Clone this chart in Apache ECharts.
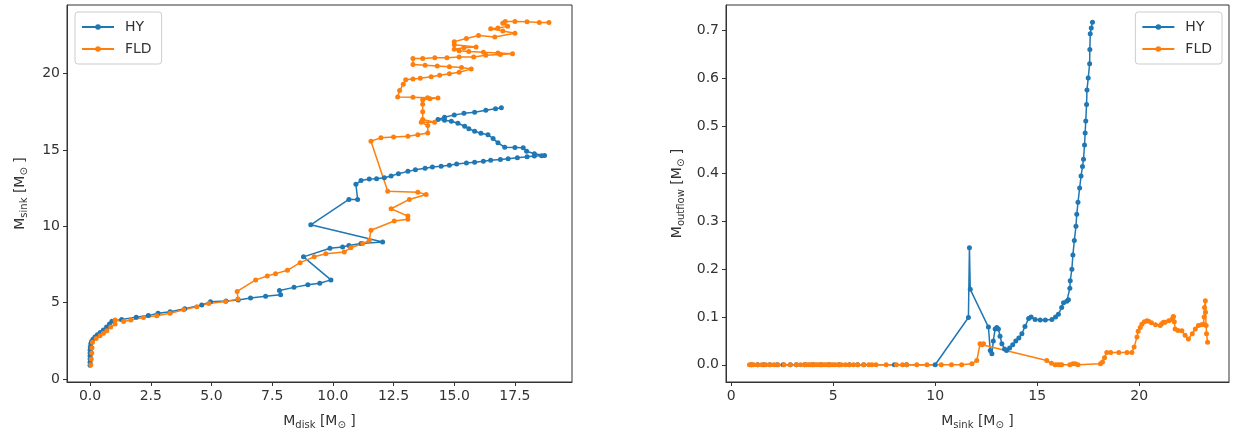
<!DOCTYPE html>
<html>
<head>
<meta charset="utf-8">
<script src="https://cdn.jsdelivr.net/npm/echarts@6/dist/echarts.min.js"></script>
<style>
  html, body { margin: 0; padding: 0; background: #fff; }
  #chart { width: 1234px; height: 429px; }
</style>
</head>
<body>
<div id="chart"></div>
<script>
// left panel: [M_disk, M_sink]
const hyDiskSink = [
  [0.0, 0.9], [0.0, 1.1], [0.0, 1.3], [0.0, 1.5], [0.0, 1.7], [0.0, 1.9], [0.01, 2.1], [0.03, 2.3],
  [0.06, 2.45], [0.12, 2.6], [0.2, 2.75], [0.3, 2.9], [0.42, 3.05], [0.55, 3.2], [0.68, 3.4], [0.8, 3.6],
  [0.9, 3.78], [1.3, 3.9], [1.9, 4.05], [2.4, 4.15], [2.8, 4.3], [3.3, 4.4], [3.9, 4.6], [4.6, 4.85],
  [4.96, 5.05], [5.6, 5.1], [6.1, 5.18], [6.61, 5.3], [7.23, 5.42], [7.85, 5.52], [7.8, 5.8], [8.4, 6.0],
  [8.97, 6.17], [9.46, 6.27], [9.92, 6.49], [8.79, 8.0], [9.88, 8.56], [10.4, 8.65], [10.66, 8.75],
  [11.16, 8.87], [12.05, 8.97], [9.09, 10.1], [10.66, 11.76], [11.02, 11.76], [10.95, 12.75],
  [11.16, 13.0], [11.5, 13.1], [11.8, 13.12], [12.12, 13.18], [12.4, 13.3], [12.7, 13.45], [13.09, 13.6],
  [13.4, 13.7], [13.8, 13.8], [14.1, 13.88], [14.46, 13.94], [14.8, 14.0], [15.1, 14.08], [15.5, 14.15],
  [15.84, 14.2], [16.2, 14.27], [16.5, 14.33], [16.9, 14.38], [17.22, 14.42], [17.6, 14.5], [18.0, 14.56],
  [18.3, 14.6], [18.6, 14.62], [18.72, 14.64], [18.3, 14.75], [17.98, 14.92], [17.84, 15.14], [17.5, 15.16],
  [17.08, 15.18], [16.8, 15.47], [16.6, 15.75], [16.39, 16.0], [16.1, 16.1], [15.84, 16.23], [15.6, 16.4],
  [15.43, 16.56], [15.15, 16.75], [14.88, 16.88], [14.6, 16.95], [14.33, 17.0], [14.6, 17.15], [15.0, 17.3],
  [15.4, 17.4], [15.84, 17.48], [16.3, 17.6], [16.7, 17.7], [16.94, 17.76]
];
const fldDiskSink = [
  [0.03, 0.93], [0.05, 1.3], [0.07, 1.7], [0.08, 2.05], [0.1, 2.4], [0.25, 2.65], [0.41, 2.83], [0.55, 3.0],
  [0.69, 3.16], [0.85, 3.4], [1.03, 3.6], [1.03, 3.86], [1.38, 3.77], [1.68, 3.86], [2.2, 4.03], [2.75, 4.14],
  [3.3, 4.3], [3.86, 4.53], [4.4, 4.73], [4.89, 4.95], [5.58, 5.07], [6.09, 5.23], [6.06, 5.73], [6.82, 6.49],
  [7.3, 6.75], [7.64, 6.9], [8.13, 7.12], [8.65, 7.62], [9.23, 8.0], [9.71, 8.2], [10.47, 8.32], [10.74, 8.6],
  [11.23, 8.87], [11.5, 9.08], [11.57, 9.74], [12.53, 10.35], [13.09, 10.46], [13.09, 10.67], [12.4, 11.15],
  [13.15, 11.76], [13.84, 12.09], [13.5, 12.24], [12.26, 12.3], [11.57, 15.58], [11.98, 15.8], [12.5, 15.85],
  [13.09, 15.9], [13.5, 16.0], [13.91, 16.12], [13.91, 16.6], [13.64, 16.82], [14.19, 16.82], [13.7, 17.0],
  [13.7, 17.5], [13.7, 18.0], [13.7, 18.3], [14.0, 18.35], [14.33, 18.4], [13.9, 18.42], [13.3, 18.45],
  [12.67, 18.47], [12.75, 18.9], [12.9, 19.3], [13.0, 19.6], [13.3, 19.65], [13.6, 19.7], [14.05, 19.8],
  [14.4, 19.9], [14.8, 20.0], [15.2, 20.1], [15.7, 20.3], [15.3, 20.4], [14.8, 20.45], [14.3, 20.5],
  [13.8, 20.55], [13.3, 20.6], [13.3, 21.0], [13.7, 21.0], [14.2, 21.05], [14.7, 21.05], [15.2, 21.1],
  [15.8, 21.1], [16.3, 21.2], [16.9, 21.25], [17.4, 21.3], [16.8, 21.35], [16.2, 21.4], [15.6, 21.45],
  [15.2, 21.5], [15.0, 21.6], [15.4, 21.7], [15.9, 21.75], [15.0, 21.9], [15.0, 22.1], [15.5, 22.3],
  [16.0, 22.5], [16.67, 22.4], [17.5, 22.65], [17.0, 22.8], [16.5, 22.95], [16.8, 23.0], [17.2, 23.1],
  [17.0, 23.3], [17.1, 23.42], [17.5, 23.42], [18.0, 23.4], [18.5, 23.35], [18.9, 23.35]
];

// right panel: [M_sink, M_outflow]
const hySinkOutflow = [
  [1.0, 0], [1.3, 0], [1.6, 0], [1.9, 0], [2.25, 0], [2.55, 0], [2.9, 0], [3.2, 0], [3.6, 0], [4.0, 0],
  [4.4, 0], [4.8, 0], [5.3, 0], [5.8, 0], [6.2, 0], [6.5, 0], [8.0, 0], [8.6, 0], [10.0, 0],
  [11.63, 0.099], [11.68, 0.245], [11.72, 0.158], [12.61, 0.079], [12.7, 0.03], [12.78, 0.023],
  [12.85, 0.05], [12.94, 0.075], [13.02, 0.078], [13.1, 0.075], [13.18, 0.06], [13.27, 0.044],
  [13.4, 0.033], [13.5, 0.03], [13.65, 0.035], [13.8, 0.042], [13.95, 0.05], [14.1, 0.056], [14.25, 0.065],
  [14.4, 0.08], [14.58, 0.097], [14.7, 0.1], [14.9, 0.095], [15.15, 0.094], [15.4, 0.094], [15.72, 0.095],
  [15.9, 0.1], [16.04, 0.106], [16.2, 0.12], [16.29, 0.13], [16.45, 0.133], [16.53, 0.136], [16.6, 0.16],
  [16.62, 0.176], [16.7, 0.2], [16.75, 0.23], [16.82, 0.26], [16.9, 0.29], [16.94, 0.315], [17.0, 0.34],
  [17.08, 0.37], [17.15, 0.395], [17.22, 0.415], [17.27, 0.43], [17.32, 0.46], [17.35, 0.485], [17.38, 0.51],
  [17.42, 0.545], [17.44, 0.575], [17.5, 0.6], [17.57, 0.63], [17.58, 0.66], [17.6, 0.693], [17.65, 0.705],
  [17.71, 0.717]
];
const fldSinkOutflow = [
  [0.9, 0], [1.0, 0], [1.1, 0], [1.3, 0], [1.5, 0], [1.7, 0], [1.9, 0], [2.1, 0], [2.3, 0], [2.6, 0],
  [2.9, 0], [3.2, 0], [3.4, 0], [3.6, 0], [3.7, 0], [3.8, 0], [3.9, 0], [4.0, 0], [4.1, 0], [4.2, 0],
  [4.3, 0], [4.4, 0], [4.5, 0], [4.6, 0], [4.7, 0], [4.8, 0], [4.9, 0], [5.0, 0], [5.1, 0], [5.25, 0],
  [5.4, 0], [5.6, 0], [5.8, 0], [6.0, 0], [6.2, 0], [6.5, 0], [6.75, 0], [6.9, 0], [7.1, 0], [7.6, 0],
  [8.1, 0], [8.4, 0], [8.6, 0], [9.1, 0], [9.6, 0], [10.3, 0], [10.8, 0], [11.3, 0], [11.8, 0.002],
  [12.04, 0.009], [12.2, 0.044], [12.3, 0.042], [12.37, 0.044], [15.47, 0.009], [15.7, 0.003], [15.88, 0],
  [16.0, 0], [16.1, 0], [16.2, 0], [16.6, 0], [16.75, 0.002], [16.86, 0.002], [17.0, 0], [18.1, 0.002],
  [18.2, 0.006], [18.3, 0.015], [18.41, 0.026], [18.6, 0.026], [19.0, 0.026], [19.4, 0.026], [19.64, 0.026],
  [19.75, 0.037], [19.89, 0.058], [19.95, 0.07], [20.05, 0.078], [20.13, 0.085], [20.25, 0.09], [20.38, 0.092],
  [20.46, 0.091], [20.6, 0.088], [20.8, 0.084], [21.03, 0.082], [21.1, 0.086], [21.19, 0.089], [21.27, 0.089],
  [21.45, 0.092], [21.6, 0.095], [21.66, 0.1], [21.68, 0.101], [21.72, 0.09], [21.76, 0.075], [21.9, 0.072],
  [22.09, 0.071], [22.25, 0.062], [22.41, 0.054], [22.6, 0.065], [22.75, 0.075], [22.9, 0.082], [23.05, 0.084],
  [23.15, 0.085], [23.18, 0.1], [23.2, 0.12], [23.24, 0.134], [23.25, 0.11], [23.28, 0.082], [23.3, 0.065],
  [23.35, 0.047]
];

const diskTicks = [0, 2.5, 5, 7.5, 10, 12.5, 15, 17.5];
const sinkTicksLeft = [0, 5, 10, 15, 20];
const sinkTicksRight = [0, 5, 10, 15, 20];
const outflowTicks = [0, 0.1, 0.2, 0.3, 0.4, 0.5, 0.6, 0.7];

const blue = '#1f77b4';
const orange = '#ff7f0e';
const textColor = '#333';
const font = 'DejaVu Sans';

const nameStyle = {
  color: textColor,
  fontFamily: font,
  fontSize: 14,
  rich: {
    sub: { fontSize: 10, fontFamily: font, color: textColor, padding: [8, 0, 0, 0] }
  }
};

function axis(gridIndex, min, max, ticks, fmt, name, nameGap) {
  return {
    type: 'value',
    gridIndex: gridIndex,
    min: min,
    max: max,
    name: name,
    nameLocation: 'middle',
    nameGap: nameGap,
    nameTextStyle: nameStyle,
    splitLine: { show: false },
    axisLine: { show: true, onZero: false, lineStyle: { color: textColor, width: 1 } },
    axisTick: { show: true, length: 4, customValues: ticks, lineStyle: { color: textColor } },
    axisLabel: {
      customValues: ticks,
      color: textColor,
      fontFamily: font,
      fontSize: 14,
      margin: 7,
      formatter: fmt
    }
  };
}

function lineSeries(name, data, color, xi, yi) {
  return {
    name: name,
    type: 'line',
    xAxisIndex: xi,
    yAxisIndex: yi,
    data: data,
    color: color,
    symbol: 'circle',
    symbolSize: 5,
    showSymbol: true,
    lineStyle: { width: 1.5, color: color },
    itemStyle: { color: color },
    emphasis: { disabled: true }
  };
}

function legend(pos) {
  return Object.assign({
    data: ['HY', 'FLD'],
    orient: 'vertical',
    itemWidth: 32,
    itemHeight: 7,
    itemGap: 8,
    padding: [8, 10, 8, 6],
    backgroundColor: '#fff',
    borderColor: '#ccc',
    borderWidth: 1,
    borderRadius: 3,
    textStyle: { color: textColor, fontFamily: font, fontSize: 14, padding: [0, 0, 0, 6] }
  }, pos);
}

const chart = echarts.init(document.getElementById('chart'), null, { renderer: 'canvas' });
chart.setOption({
  animation: false,
  backgroundColor: '#fff',
  grid: [
    { left: 67, top: 5, width: 505, height: 377, outerBoundsMode: 'none', show: true, borderColor: textColor, borderWidth: 1 },
    { left: 726, top: 5, width: 503, height: 377, outerBoundsMode: 'none', show: true, borderColor: textColor, borderWidth: 1 }
  ],
  legend: [
    legend({ left: 75, top: 12 }),
    legend({ right: 12, top: 12 })
  ],
  xAxis: [
    axis(0, -0.95, 19.85, diskTicks, v => v.toFixed(1), 'M{sub|disk} [M{sub|⊙} ]', 30),
    axis(1, -0.25, 24.4, sinkTicksRight, v => String(v), 'M{sub|sink} [M{sub|⊙} ]', 30)
  ],
  yAxis: [
    axis(0, -0.2, 24.5, sinkTicksLeft, v => String(v), 'M{sub|sink} [M{sub|⊙} ]', 38),
    axis(1, -0.036, 0.753, outflowTicks, v => v.toFixed(1), 'M{sub|outflow} [M{sub|⊙} ]', 40)
  ],
  series: [
    lineSeries('HY', hyDiskSink, blue, 0, 0),
    lineSeries('FLD', fldDiskSink, orange, 0, 0),
    lineSeries('HY', hySinkOutflow, blue, 1, 1),
    lineSeries('FLD', fldSinkOutflow, orange, 1, 1)
  ]
});
</script>
</body>
</html>
